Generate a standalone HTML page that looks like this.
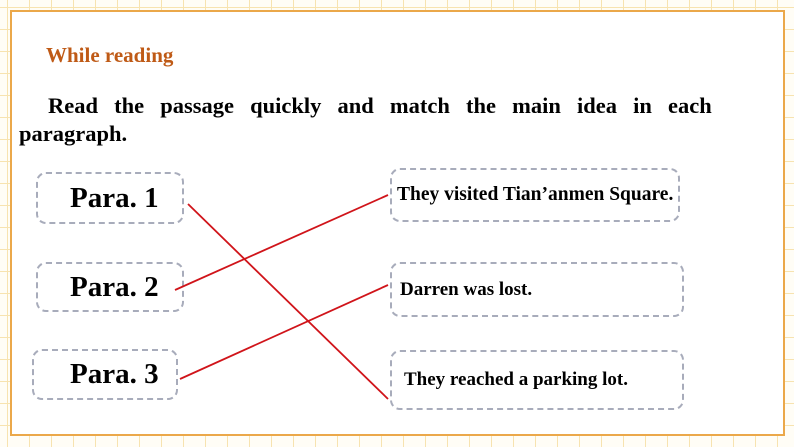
<!DOCTYPE html>
<html><head><style>
body{margin:0;width:794px;height:447px;overflow:hidden;font-family:"Liberation Serif",serif;font-weight:bold;
background-color:#fffdf6;
background-image:linear-gradient(to right,#f7e3b0 1px,transparent 1px),linear-gradient(to bottom,#f7e3b0 1px,transparent 1px);
background-size:22px 22px;background-position:7px 7px;position:relative}
.frame{position:absolute;left:10px;top:10px;width:771px;height:422px;border:2px solid #eba84a;background:#fff}
.t{position:absolute;white-space:nowrap}
.box{position:absolute;border:2.5px dashed #a8acbb;border-radius:10px;box-sizing:border-box;display:flex;align-items:center}
</style></head><body>
<div class="frame"></div>
<div class="t" style="left:46px;top:43px;font-size:21px;color:#bf5a16">While reading</div>
<div class="t" style="left:48px;top:93px;font-size:22.5px;word-spacing:10.5px">Read the passage quickly and match the main idea in each</div>
<div class="t" style="left:19px;top:121px;font-size:22.5px">paragraph.</div>
<div class="box" style="left:36px;top:172px;width:148px;height:52px;padding-left:32px;font-size:29px">Para. 1</div>
<div class="box" style="left:36px;top:262px;width:148px;height:50px;padding-left:32px;font-size:29px">Para. 2</div>
<div class="box" style="left:32px;top:349px;width:146px;height:51px;padding-left:36px;font-size:29px">Para. 3</div>
<div class="box" style="left:390px;top:168px;width:290px;height:54px;padding-left:5px;font-size:19.5px">They visited Tian’anmen Square.</div>
<div class="box" style="left:390px;top:262px;width:294px;height:55px;padding-left:8px;font-size:19px">Darren was lost.</div>
<div class="box" style="left:390px;top:350px;width:294px;height:60px;padding-left:12px;font-size:19px">They reached a parking lot.</div>
<svg style="position:absolute;left:0;top:0" width="794" height="447">
<g stroke="#d0141a" stroke-width="1.8">
<line x1="188" y1="204" x2="388" y2="399"/>
<line x1="175" y1="290" x2="388" y2="195"/>
<line x1="180" y1="379" x2="388" y2="285"/>
</g></svg>
</body></html>
